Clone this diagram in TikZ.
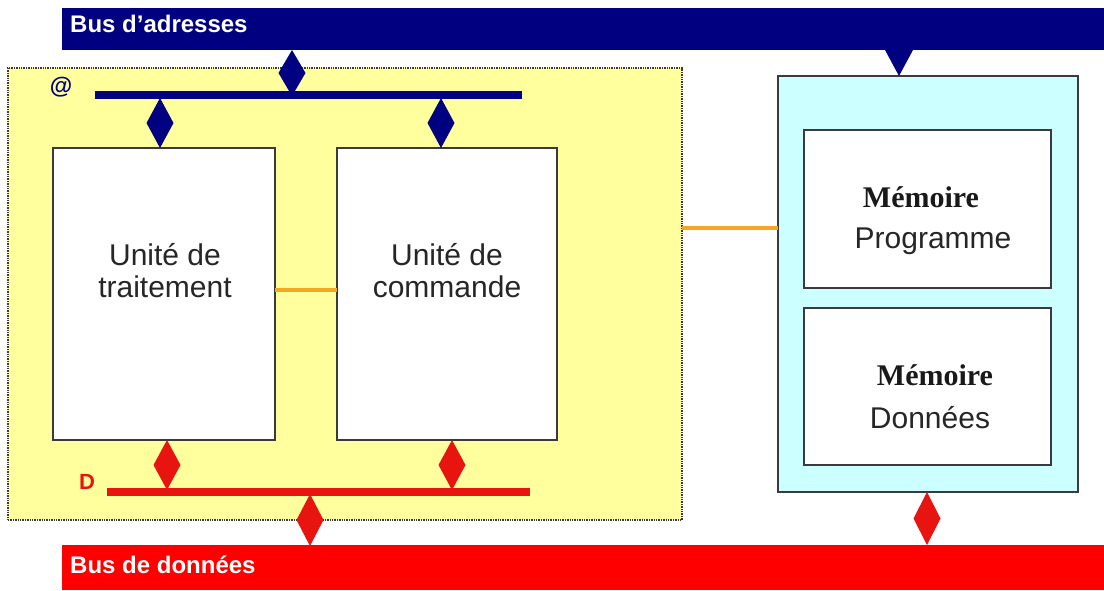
\documentclass[tikz,border=0pt]{standalone}
\usepackage{fontspec}
\setmainfont{Liberation Sans}
\newfontfamily\serifb{Liberation Serif}
\usetikzlibrary{shapes.geometric}
\definecolor{navy}{HTML}{000080}
\definecolor{busred}{HTML}{FF0000}
\definecolor{dred}{HTML}{E8140F}
\definecolor{ylw}{HTML}{FFFF9E}
\definecolor{cyn}{HTML}{CCFFFF}
\definecolor{org}{HTML}{F5A623}
\definecolor{edge}{HTML}{3A3A3A}
\definecolor{txt}{HTML}{262626}
\begin{document}
\begin{tikzpicture}[x=1pt,y=-1pt,
  rectnode/.style={anchor=north west, inner sep=0, outer sep=0},
  unitbox/.style={rectnode, draw=edge, line width=1.8pt, fill=white},
  busbar/.style={rectnode, fill=#1},
  thinbar/.style={anchor=west, inner sep=0, outer sep=0, fill=#1, minimum height=7.5},
  dia/.style={diamond, fill=#1, inner sep=0, outer sep=0, minimum width=27, minimum height=50},
  bustext/.style={anchor=west, text=white, font=\fontsize{24}{28}\selectfont\bfseries, inner sep=0},
  lbl/.style={align=center, text=txt, font=\fontsize{30}{32}\selectfont, inner sep=0},
  memb/.style={text=black!90, font=\serifb\fontsize{30}{34}\selectfont\bfseries, inner sep=0},
  orng/.style={draw=org, line width=3.5pt}
]
\useasboundingbox[fill=white] (0,0) rectangle (1104,590);

% buses
\node[busbar=navy, minimum width=1042, minimum height=42] (busA) at (62,8) {};
\node[bustext] (busAt) at (70,24) {Bus d’adresses};
\node[busbar=busred, minimum width=1042, minimum height=45] (busD) at (62,545) {};
\node[bustext] (busDt) at (70,565) {Bus de données};

% CPU box
\node[rectnode, fill=ylw, draw=edge, line width=1.4pt, densely dotted, minimum width=674, minimum height=452] (cpu) at (8,68) {};

% memory box
\node[rectnode, fill=cyn, draw=edge, line width=1.8pt, minimum width=300, minimum height=416] (mem) at (778,76) {};
\node[unitbox, minimum width=247, minimum height=158] (mp) at (804,130) {};
\node[unitbox, minimum width=247, minimum height=157] (md) at (804,308) {};
\node[memb] (mpa) at (921,197) {Mémoire};
\node[lbl] (mpb) at (933,241) {Programme};
\node[memb] (mda) at (935,375) {Mémoire};
\node[lbl] (mdb) at (930,418) {Données};

% internal buses
\node[thinbar=navy, minimum width=427] (abar) at (95,95) {};
\node[thinbar=dred, minimum width=423] (dbar) at (107,492) {};
\node[text=navy, font=\fontsize{23}{25}\selectfont\bfseries, inner sep=0] (at) at (61,87) {@};
\node[text=dred, font=\fontsize{22}{24}\selectfont\bfseries, inner sep=0] (dl) at (87,482) {D};

% units
\node[unitbox, minimum width=222, minimum height=292] (ut) at (53,148) {};
\node[unitbox, minimum width=220, minimum height=292] (uc) at (337,148) {};
\node[lbl] (utl) at (165,271) {Unité de\\traitement};
\node[lbl] (ucl) at (447,271) {Unité de\\commande};

% orange links
\draw[orng] ([yshift=4pt]ut.east) -- ([yshift=4pt]uc.west);
\draw[orng] (cpu.east |- 0,228) -- (mem.west |- 0,228);

% address diamonds
\node[dia=navy, minimum height=46] (da0) at (292,73) {};
\node[dia=navy] (da1) at (160,123) {};
\node[dia=navy] (da2) at (441,123) {};
\fill[navy] (busA.south -| 885,0) -- (busA.south -| 913,0) -- (mem.north -| 899,0) -- cycle;

% data diamonds
\node[dia=dred] (dd1) at (167,465) {};
\node[dia=dred] (dd2) at (452,465) {};
\node[dia=dred, minimum height=52] (dd0) at (310,520) {};
\node[dia=dred, minimum height=53] (dd3) at (927,518.5) {};
\end{tikzpicture}
\end{document}
